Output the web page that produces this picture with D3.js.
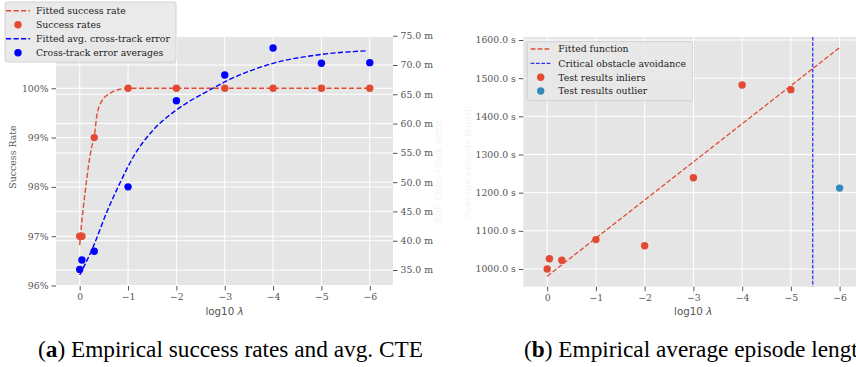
<!DOCTYPE html>
<html>
<head>
<meta charset="utf-8">
<script src="https://cdn.jsdelivr.net/npm/d3@7"></script>
<style>
  body { margin: 0; background: #fff; }
  svg { display: block; }
  .tick text { font-family: "DejaVu Serif", serif; font-size: 9.3px; fill: #555; }
  .tick line { stroke: #555; }
  .domain { display: none; }
  .lbl { font-family: "DejaVu Serif", serif; font-size: 9.4px; fill: #555; }
  .xlbl { font-family: "DejaVu Sans", sans-serif; font-size: 10.3px; fill: #555; }
  .leg { font-family: "DejaVu Serif", serif; font-size: 9.3px; fill: #222; }
  .cap { font-family: "Liberation Serif", serif; font-size: 23.3px; fill: #000; }
</style>
</head>
<body>
<svg width="856" height="367"></svg>
<script>
// x positions (log10 lambda)
const lambdas = [0, -0.046, -0.301, -1, -2, -3, -4, -5, -6];
const xTicks = [0, -1, -2, -3, -4, -5, -6];

// (a) success rate + cross-track error
const successRates = [97, 97, 99, 100, 100, 100, 100, 100, 100];
const cteAverages = [35.1, 36.7, 38.2, 49.2, 63.9, 68.3, 72.9, 70.3, 70.4];
const fitSuccessX = [0, -0.04, -0.11, -0.18, -0.25, -0.3, -0.35, -0.45, -0.63, -0.83, -1, -2, -3, -4, -5, -6];
const fitSuccessY = [96.82, 97.26, 97.87, 98.41, 98.82, 99.0, 99.42, 99.73, 99.9, 99.98, 100, 100, 100, 100, 100, 100];
const fitCteX = [0, -0.28, -0.55, -0.83, -1.11, -1.52, -2.0, -2.69, -3.04, -4.0, -5.03, -5.96];
const fitCteY = [34.15, 38.98, 44.68, 49.8, 54.34, 58.9, 62.32, 65.73, 67.27, 70.29, 71.83, 72.44];
const successTicks = [96, 97, 98, 99, 100];
const cteTicks = [35, 40, 45, 50, 55, 60, 65, 70, 75];

// (b) episode length
const inlierX = [0, -0.046, -0.301, -1, -2, -3, -4, -5];
const inlierLen = [1000, 1027, 1023, 1077, 1061, 1239, 1482, 1470];
const outlierX = [-6];
const outlierLen = [1212];
const fitLenX = [0, -6];
const fitLenY = [981, 1580];
const criticalX = -5.45;
const lenTicks = [1000, 1100, 1200, 1300, 1400, 1500, 1600];

const RED = '#E24A33', BLUE = '#0000ff', LBLUE = '#348ABD';
const svg = d3.select('svg');
svg.append('rect').attr('width', 856).attr('height', 367).attr('fill', '#fff');

const fmtX = d => d === 0 ? '0' : '\u2212' + Math.abs(d);

function panel(left, right, top, bottom, clipId) {
  const x = d3.scaleLinear().domain([0.49, -6.48]).range([left, right]);
  svg.append('rect').attr('x', left).attr('y', top)
    .attr('width', right - left).attr('height', bottom - top).attr('fill', '#E5E5E5');
  svg.append('clipPath').attr('id', clipId).append('rect')
    .attr('x', left).attr('y', top).attr('width', right - left).attr('height', bottom - top);
  const g = svg.append('g').attr('clip-path', `url(#${clipId})`);
  g.selectAll('.vg').data(xTicks).enter().append('line')
    .attr('x1', d => x(d)).attr('x2', d => x(d)).attr('y1', top).attr('y2', bottom)
    .attr('stroke', '#fff').attr('stroke-width', 1);
  svg.append('g').attr('transform', `translate(0,${bottom})`)
    .call(d3.axisBottom(x).tickValues(xTicks).tickFormat(fmtX).tickSize(4.5).tickPadding(3));
  const t = svg.append('text').attr('class', 'xlbl').attr('x', (left + right) / 2).attr('y', 315)
    .attr('text-anchor', 'middle');
  t.append('tspan').text('log10 ');
  t.append('tspan').attr('font-style', 'italic').text('\u03bb');
  return { x, g };
}

function hgrid(g, y, ticks, left, right) {
  g.selectAll(null).data(ticks).enter().append('line')
    .attr('x1', left).attr('x2', right).attr('y1', d => y(d)).attr('y2', d => y(d))
    .attr('stroke', '#fff').attr('stroke-width', 1);
}

// ---- panel (a)
const aL = 56, aR = 393, aT = 37, aB = 286;
const pa = panel(aL, aR, aT, aB, 'clipA');
const yS = d3.scaleLinear().domain([95.99, 101.04]).range([aB, aT]);
const yC = d3.scaleLinear().domain([32.27, 74.78]).range([aB, aT]);
hgrid(pa.g, yS, successTicks, aL, aR);
hgrid(pa.g, yC, cteTicks, aL, aR);

svg.append('g').attr('transform', `translate(${aL},0)`)
  .call(d3.axisLeft(yS).tickValues(successTicks).tickFormat(d => d + '%').tickSize(4.5).tickPadding(3));
svg.append('g').attr('transform', `translate(${aR},0)`)
  .call(d3.axisRight(yC).tickValues(cteTicks).tickFormat(d => d.toFixed(1) + ' m').tickSize(4.5).tickPadding(3));
svg.append('text').attr('class', 'lbl').attr('transform', 'translate(15.5,157) rotate(-90)')
  .attr('text-anchor', 'middle').text('Success Rate');
// right-axis label is almost hidden in the original
svg.append('text').attr('class', 'lbl').attr('opacity', 0.07)
  .attr('transform', 'translate(441,172) rotate(-90)')
  .attr('text-anchor', 'middle').text('Avg. cross-track error');

const lineS = d3.line().curve(d3.curveMonotoneX).x((d, i) => pa.x(fitSuccessX[i])).y(d => yS(d));
pa.g.append('path').datum(fitSuccessY).attr('d', lineS).attr('fill', 'none')
  .attr('stroke', RED).attr('stroke-width', 1.4).attr('stroke-dasharray', '5.2,2.3');
const lineC = d3.line().curve(d3.curveMonotoneX).x((d, i) => pa.x(fitCteX[i])).y(d => yC(d));
pa.g.append('path').datum(fitCteY).attr('d', lineC).attr('fill', 'none')
  .attr('stroke', BLUE).attr('stroke-width', 1.4).attr('stroke-dasharray', '5.2,2.3');

svg.selectAll('.sr').data(successRates).enter().append('circle')
  .attr('cx', (d, i) => pa.x(lambdas[i])).attr('cy', d => yS(d)).attr('r', 3.7).attr('fill', RED);
svg.selectAll('.cte').data(cteAverages).enter().append('circle')
  .attr('cx', (d, i) => pa.x(lambdas[i])).attr('cy', d => yC(d)).attr('r', 3.7).attr('fill', BLUE);

// ---- panel (b)
const bL = 523.3, bR = 863, bT = 37, bB = 286.7;
const pb = panel(bL, bR, bT, bB, 'clipB');
const yL = d3.scaleLinear().domain([953.6, 1607.9]).range([bB, bT]);
hgrid(pb.g, yL, lenTicks, bL, bR);
svg.append('g').attr('transform', `translate(${bL},0)`)
  .call(d3.axisLeft(yL).tickValues(lenTicks).tickFormat(d => d.toFixed(1) + ' s').tickSize(4.5).tickPadding(3));
svg.append('text').attr('class', 'lbl').attr('opacity', 0.07)
  .attr('transform', 'translate(471,162) rotate(-90)')
  .attr('text-anchor', 'middle').text('Average episode length');

pb.g.append('line').attr('x1', pb.x(criticalX)).attr('x2', pb.x(criticalX)).attr('y1', bT).attr('y2', bB)
  .attr('stroke', BLUE).attr('stroke-width', 1).attr('stroke-dasharray', '3.7,1.6');
pb.g.append('path').datum(fitLenY)
  .attr('d', d3.line().x((d, i) => pb.x(fitLenX[i])).y(d => yL(d)))
  .attr('fill', 'none').attr('stroke', RED).attr('stroke-width', 1.3).attr('stroke-dasharray', '4.8,2.1');
svg.selectAll('.inl').data(inlierLen).enter().append('circle')
  .attr('cx', (d, i) => pb.x(inlierX[i])).attr('cy', d => yL(d)).attr('r', 3.7).attr('fill', RED);
svg.selectAll('.outl').data(outlierLen).enter().append('circle')
  .attr('cx', (d, i) => pb.x(outlierX[i])).attr('cy', d => yL(d)).attr('r', 3.7).attr('fill', LBLUE);

// ---- legends
function legend(x0, y0, w, h, items, lineX0, lineX1, textX, rowY) {
  const lg = svg.append('g');
  lg.append('rect').attr('x', x0).attr('y', y0).attr('width', w).attr('height', h).attr('rx', 2)
    .attr('fill', '#E8E8E8').attr('fill-opacity', 0.92).attr('stroke', '#cccccc').attr('stroke-width', 0.8);
  items.forEach((it, i) => {
    const y = rowY[i];
    if (it.kind === 'line') {
      lg.append('line').attr('x1', lineX0).attr('x2', lineX1).attr('y1', y).attr('y2', y)
        .attr('stroke', it.color).attr('stroke-width', it.w).attr('stroke-dasharray', it.dash);
    } else {
      lg.append('circle').attr('cx', (lineX0 + lineX1) / 2).attr('cy', y).attr('r', 3.7).attr('fill', it.color);
    }
    lg.append('text').attr('class', 'leg').attr('x', textX).attr('y', y).attr('dy', '0.35em').text(it.label);
  });
}
legend(5, 2, 171, 60, [
  { kind: 'line', color: RED, w: 1.4, dash: '5.2,2.3', label: 'Fitted success rate' },
  { kind: 'dot', color: RED, label: 'Success rates' },
  { kind: 'line', color: BLUE, w: 1.4, dash: '5.2,2.3', label: 'Fitted avg. cross-track error' },
  { kind: 'dot', color: BLUE, label: 'Cross-track error averages' }
], 6, 30, 36, [10.7, 24.7, 38.7, 52.7]);
legend(527.3, 41.7, 165.4, 59, [
  { kind: 'line', color: RED, w: 1.3, dash: '4.8,2.1', label: 'Fitted function' },
  { kind: 'line', color: BLUE, w: 1, dash: '3.7,1.6', label: 'Critical obstacle avoidance' },
  { kind: 'dot', color: RED, label: 'Test results inliers' },
  { kind: 'dot', color: LBLUE, label: 'Test results outlier' }
], 530.7, 550.7, 558.3, [49, 63.3, 77.3, 91]);

// ---- captions (the second one runs past the right edge, as in the original)
const capA = svg.append('text').attr('class', 'cap').attr('x', 38).attr('y', 357);
capA.append('tspan').text('(');
capA.append('tspan').attr('font-weight', 'bold').text('a');
capA.append('tspan').text(') Empirical success rates and avg. CTE');
const capB = svg.append('text').attr('class', 'cap').attr('x', 524).attr('y', 357);
capB.append('tspan').text('(');
capB.append('tspan').attr('font-weight', 'bold').text('b');
capB.append('tspan').text(') Empirical average episode length');
</script>
</body>
</html>
